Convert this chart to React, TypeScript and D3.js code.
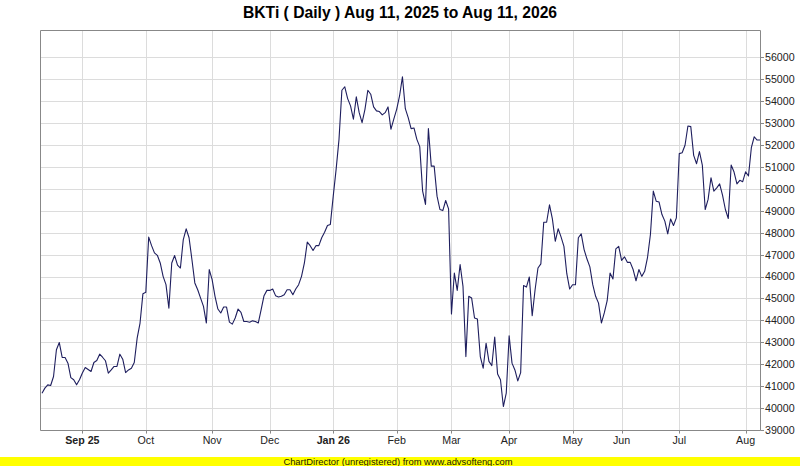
import React from "react";
import * as d3 from "d3";

const closeValues: number[] = [
  40680, 40910, 41060, 41030, 41440, 42660, 42990, 42310, 42310, 42050,
  41390, 41290, 41060, 41290, 41600, 41850, 41760, 41670, 42080, 42170,
  42460, 42320, 42160, 41590, 41740, 41900, 41900, 42460, 42230, 41620,
  41740, 41820, 42080, 43190, 43880, 45220, 45280, 47800, 47410, 47080,
  46970, 46620, 46010, 45630, 44560, 46620, 46960, 46520, 46390, 47690,
  48180, 47770, 46770, 45710, 45400, 45020, 44640, 43880, 46320, 45860,
  45100, 44520, 44340, 44610, 44610, 43920, 43830, 44110, 44520, 44370,
  43950, 43950, 43920, 43980, 43950, 43880, 44490, 45130, 45370, 45370,
  45430, 45130, 45070, 45100, 45170, 45400, 45400, 45170, 45430, 45630,
  46010, 46620, 47570, 47410, 47190, 47410, 47410, 47770, 48020, 48330,
  48380, 49670, 50890, 52260, 54500, 54660, 54120, 53790, 53180, 54200,
  53480, 53020, 53630, 54500, 54320, 53740, 53560, 53530, 53380, 53480,
  53740, 52720, 53180, 53630, 54240, 55110, 53660, 53250, 52750, 52780,
  52260, 51930, 49900, 49290, 52750, 51040, 51040, 49670, 49060, 49010,
  49470, 49090, 44290, 46160, 45370, 46550, 45550, 42350, 45100, 45020,
  44110, 44060, 42350, 41820, 42960, 42130, 41940, 43240, 41550, 41290,
  40070, 40680, 43300, 42050, 41740, 41240, 41620, 45590, 45520, 45980,
  44210, 45400, 46390, 46580, 48480, 48480, 49270, 48630, 47610, 48180,
  47810, 47380, 46130, 45430, 45630, 45630, 47770, 47950, 47230, 46800,
  46440, 45630, 45100, 44790, 43880, 44340, 44900, 46160, 45890, 47260,
  47380, 46740, 46900, 46650, 46650, 46320, 45810, 46320, 46010, 46240,
  46880, 47920, 49900, 49440, 49400, 48830, 48530, 47950, 48630, 48330,
  48680, 51610, 51650, 51990, 52870, 52840, 51530, 51150, 51700, 51090,
  49060, 49520, 50510, 49900, 50050, 50230, 49720, 49060, 48650, 51090,
  50770, 50230, 50390, 50330, 50780, 50590, 51880, 52380, 52230, 52230,
];

const monthTickIndex: number[] = [14, 36, 59, 79, 101, 123, 142, 162, 184, 201, 221, 244];
const monthTickLabel: string[] = ["Sep 25", "Oct", "Nov", "Dec", "Jan 26", "Feb", "Mar", "Apr", "May", "Jun", "Jul", "Aug"];
const monthTickBold: boolean[] = [true, false, false, false, true, false, false, false, false, false, false, false];

const yTickValues: number[] = d3.range(39000, 56001, 1000);

const titleText = "BKTi ( Daily ) Aug 11, 2025 to Aug 11, 2026";
const footerText = "ChartDirector (unregistered) from www.advsofteng.com";

const W = 800;
const H = 466;
const plotLeft = 40.5;
const plotRight = 760.5;
const plotTop = 30.5;
const plotBottom = 430.5;

export default function App() {
  const x = d3.scaleLinear().domain([0, closeValues.length - 1]).range([42, 760]);
  const y = d3.scaleLinear().domain([39000, 57250]).range([430, 30]);

  const line = d3
    .line<number>()
    .x((_, i) => x(i))
    .y((d) => y(d));

  const font = "'Liberation Sans', Arial, sans-serif";

  return (
    <svg
      width={W}
      height={H}
      viewBox={`0 0 ${W} ${H}`}
      style={{ position: "fixed", left: 0, top: 0, background: "#ffffff" }}
      fontFamily={font}
    >
      <rect x={0} y={0} width={W} height={H} fill="#ffffff" />
      <text x={400} y={17.5} textAnchor="middle" fontSize={15.7} fontWeight="bold" fill="#000">
        {titleText}
      </text>

      {/* horizontal grid */}
      {yTickValues.map((v) => (
        <line
          key={"hg" + v}
          x1={plotLeft}
          x2={plotRight}
          y1={Math.round(y(v)) + 0.5}
          y2={Math.round(y(v)) + 0.5}
          stroke="#dcdcdc"
          strokeWidth={1}
        />
      ))}
      {/* vertical grid */}
      {monthTickIndex.map((idx) => (
        <line
          key={"vg" + idx}
          x1={Math.round(x(idx)) + 0.5}
          x2={Math.round(x(idx)) + 0.5}
          y1={plotTop}
          y2={plotBottom + 3}
          stroke="#dcdcdc"
          strokeWidth={1}
        />
      ))}

      {/* frame */}
      <line x1={plotLeft} x2={plotRight} y1={plotTop} y2={plotTop} stroke="#888" />
      <line x1={plotLeft} x2={plotLeft} y1={plotTop} y2={plotBottom} stroke="#888" />
      <line x1={plotLeft} x2={plotRight} y1={plotBottom} y2={plotBottom} stroke="#888" />
      <line x1={plotRight} x2={plotRight} y1={plotTop} y2={plotBottom} stroke="#888" />

      {/* data line */}
      <path d={line(closeValues) ?? ""} fill="none" stroke="#1e1e5e" strokeWidth={1.1} strokeLinejoin="round" />

      {/* right axis ticks + labels */}
      {yTickValues.map((v) => (
        <g key={"yt" + v}>
          <line
            x1={plotRight}
            x2={plotRight + 3.5}
            y1={Math.round(y(v)) + 0.5}
            y2={Math.round(y(v)) + 0.5}
            stroke="#888"
          />
          <text x={765} y={y(v) + 3.9} fontSize={10.67} fill="#222">
            {v}
          </text>
        </g>
      ))}

      {/* bottom axis ticks + labels */}
      {monthTickIndex.map((idx, i) => (
        <g key={"xt" + idx}>
          <line
            x1={Math.round(x(idx)) + 0.5}
            x2={Math.round(x(idx)) + 0.5}
            y1={plotBottom}
            y2={plotBottom + 3}
            stroke="#888"
          />
          <text
            x={x(idx)}
            y={444}
            textAnchor="middle"
            fontSize={10.67}
            fontWeight={monthTickBold[i] ? "bold" : "normal"}
            fill="#222"
          >
            {monthTickLabel[i]}
          </text>
        </g>
      ))}

      {/* footer */}
      <rect x={0} y={457} width={W} height={9} fill="#ffff00" />
      <text x={398} y={464.6} textAnchor="middle" fontSize={9.4} fill="#1a1a00">
        {footerText}
      </text>
    </svg>
  );
}
